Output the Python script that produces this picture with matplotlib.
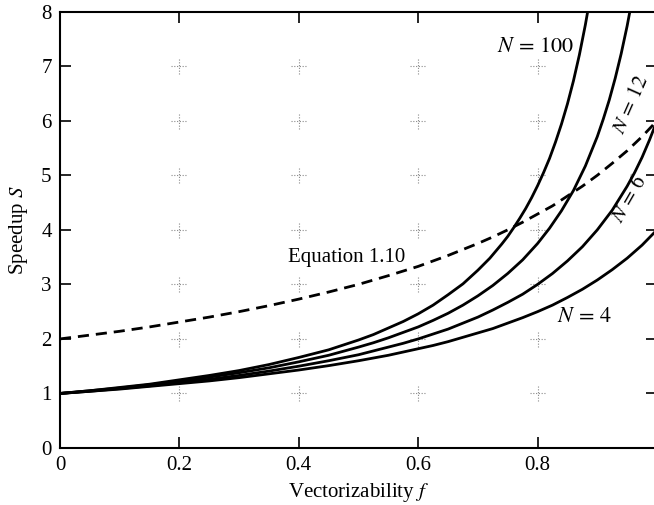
import matplotlib
matplotlib.use("Agg")
import matplotlib.pyplot as plt

plt.rcParams['font.family'] = ['Liberation Serif', 'DejaVu Serif']
plt.rcParams['mathtext.fontset'] = 'stix'

# ---- data ----
f_n4 = [0, 0.05, 0.1, 0.15, 0.2, 0.25, 0.3, 0.35, 0.4, 0.45, 0.5, 0.525, 0.55, 0.575,
        0.6, 0.625, 0.65, 0.675, 0.7, 0.725, 0.75, 0.775, 0.8, 0.825, 0.85, 0.875,
        0.9, 0.925, 0.95, 0.975, 1.0]
s_n4 = [1.00, 1.04, 1.08, 1.13, 1.18, 1.23, 1.29, 1.36, 1.43, 1.51, 1.60, 1.65, 1.70,
        1.76, 1.82, 1.88, 1.95, 2.03, 2.11, 2.19, 2.29, 2.39, 2.50, 2.62, 2.76, 2.91,
        3.08, 3.27, 3.48, 3.72, 4.00]

f_n6 = [0, 0.05, 0.1, 0.15, 0.2, 0.25, 0.3, 0.35, 0.4, 0.45, 0.5, 0.525, 0.55, 0.575,
        0.6, 0.625, 0.65, 0.675, 0.7, 0.725, 0.75, 0.775, 0.8, 0.825, 0.85, 0.875,
        0.9, 0.925, 0.95, 0.9625, 0.975, 0.9875, 1.0]
s_n6 = [1.00, 1.04, 1.09, 1.14, 1.20, 1.26, 1.33, 1.41, 1.50, 1.60, 1.71, 1.78, 1.85,
        1.92, 2.00, 2.09, 2.18, 2.29, 2.40, 2.53, 2.67, 2.82, 3.00, 3.20, 3.43, 3.69,
        4.00, 4.36, 4.80, 5.05, 5.33, 5.65, 6.00]

f_n12 = [0, 0.05, 0.1, 0.15, 0.2, 0.25, 0.3, 0.35, 0.4, 0.45, 0.5, 0.525, 0.55, 0.575,
         0.6, 0.625, 0.65, 0.675, 0.7, 0.725, 0.75, 0.775, 0.8, 0.82, 0.84, 0.86,
         0.88, 0.9, 0.91, 0.92, 0.93, 0.94, 0.95, 0.955]
s_n12 = [1.00, 1.05, 1.10, 1.16, 1.22, 1.30, 1.38, 1.47, 1.58, 1.70, 1.85, 1.93, 2.02,
         2.12, 2.22, 2.34, 2.47, 2.62, 2.79, 2.98, 3.20, 3.45, 3.75, 4.03, 4.35, 4.72,
         5.17, 5.71, 6.03, 6.38, 6.78, 7.23, 7.74, 8.03]

f_n100 = [0, 0.05, 0.1, 0.15, 0.2, 0.25, 0.3, 0.35, 0.4, 0.45, 0.475, 0.5, 0.525, 0.55,
          0.575, 0.6, 0.625, 0.65, 0.675, 0.7, 0.71, 0.72, 0.73, 0.74, 0.75, 0.76,
          0.77, 0.78, 0.79, 0.8, 0.81, 0.82, 0.83, 0.84, 0.85, 0.86, 0.87, 0.88, 0.885]
s_n100 = [1.00, 1.05, 1.11, 1.17, 1.25, 1.33, 1.42, 1.53, 1.66, 1.80, 1.89, 1.98, 2.08,
          2.20, 2.32, 2.46, 2.62, 2.81, 3.01, 3.26, 3.37, 3.48, 3.61, 3.74, 3.88, 4.04,
          4.21, 4.39, 4.59, 4.81, 5.05, 5.31, 5.61, 5.94, 6.31, 6.73, 7.21, 7.76, 8.07]

f_eq = [0, 0.05, 0.1, 0.15, 0.2, 0.25, 0.3, 0.35, 0.4, 0.45, 0.5, 0.55, 0.6, 0.65,
        0.7, 0.725, 0.75, 0.775, 0.8, 0.825, 0.85, 0.875, 0.9, 0.925, 0.95, 0.975, 1.0]
s_eq = [2.00, 2.07, 2.14, 2.22, 2.31, 2.40, 2.50, 2.61, 2.73, 2.86, 3.00, 3.16, 3.33,
        3.53, 3.75, 3.87, 4.00, 4.14, 4.29, 4.44, 4.62, 4.80, 5.00, 5.22, 5.45, 5.71, 6.00]

x_ticks = [0, 0.2, 0.4, 0.6, 0.8]
x_tick_labels = ['0', '0.2', '0.4', '0.6', '0.8']
y_ticks = [0, 1, 2, 3, 4, 5, 6, 7, 8]
grid_x = [0.2, 0.4, 0.6, 0.8]
grid_y = [1, 2, 3, 4, 5, 6, 7]

# ---- figure ----
fig = plt.figure(figsize=(6.54, 5.05), dpi=100)
ax = fig.add_axes([60/654, 57/505, 597/654, 436.3/505])
ax.set_xlim(0, 1)
ax.set_ylim(0, 8)
fig.canvas.draw()

# dotted grid crosses (half-size 8 px)
for gx in grid_x:
    for gy in grid_y:
        p = ax.transData.transform((gx, gy))
        for xs, ys in [([p[0] - 8, p[0] + 8], [p[1], p[1]]),
                       ([p[0], p[0]], [p[1] - 8, p[1] + 8])]:
            ax.add_line(plt.Line2D(xs, ys, transform=None, color='#8a8a8a',
                                   lw=0.8, ls=(0, (1, 1.5)), zorder=1))

lw = 2.0
for fx, sy in [(f_n4, s_n4), (f_n6, s_n6), (f_n12, s_n12), (f_n100, s_n100)]:
    ax.plot(fx, sy, color='black', lw=lw, zorder=3, solid_joinstyle='round')
ax.plot(f_eq, s_eq, color='black', lw=lw, ls=(0, (4, 2.5)), zorder=3)

fs = 15
ax.text(0.797, 7.34, r'$N\,=\,100$', fontsize=16, ha='center', va='center')
ax.text(0.958, 6.29, r'$N\,=\,12$', fontsize=15, ha='center', va='center', rotation=66)
ax.text(0.955, 4.57, r'$N\,=\,6$', fontsize=15, ha='center', va='center', rotation=60,
        clip_on=False)
ax.text(0.879, 2.40, r'$N\,=\,4$', fontsize=16, ha='center', va='center')
ax.text(0.480, 3.49, 'Equation 1.10', fontsize=fs, ha='center', va='center')

ax.set_xticks(x_ticks)
ax.set_xticklabels(x_tick_labels)
ax.set_yticks(y_ticks)
ax.tick_params(direction='in', length=8, width=1.2, top=True, right=True,
               labelsize=fs, pad=6, colors='black')
for sp in ax.spines.values():
    sp.set_linewidth(1.5)

ax.set_xlabel(r'Vectorizability $f$', fontsize=fs, labelpad=4)
ax.set_ylabel(r'Speedup $S$', fontsize=fs, labelpad=8)

fig.savefig('out.png', dpi=100)
